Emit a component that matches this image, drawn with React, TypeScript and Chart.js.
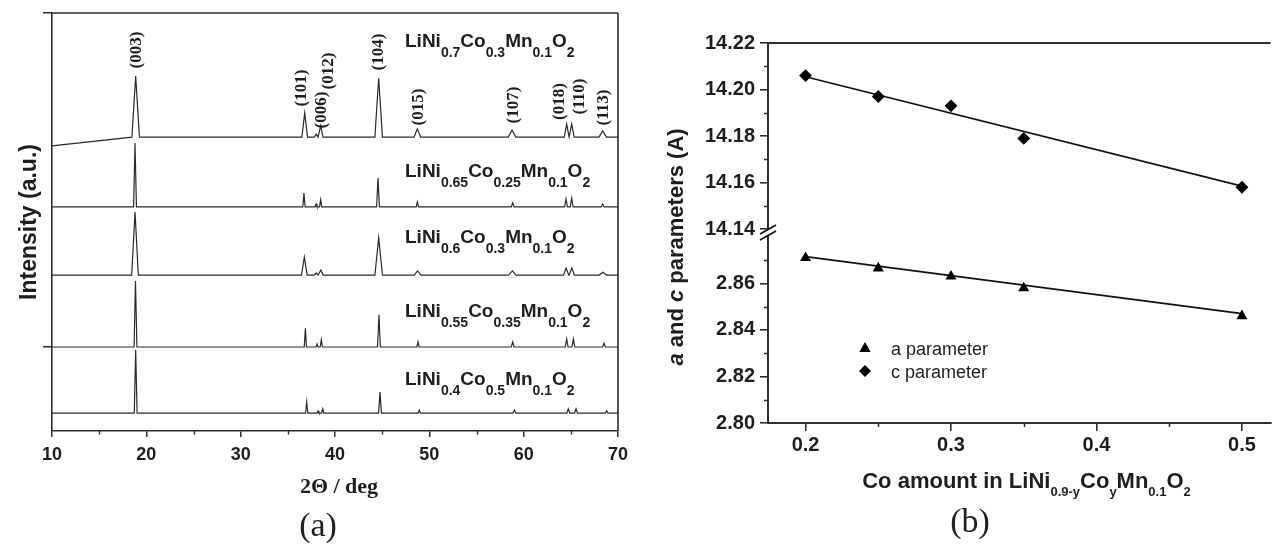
import React, { useEffect, useRef } from 'react';
import { Chart, registerables } from 'chart.js';

Chart.register(...registerables);

const SANS = '"Liberation Sans", Arial, sans-serif';
const SERIF = '"Liberation Serif", "Times New Roman", serif';
const INK = '#1e1e1e';
const AXIS = '#2e2e2e';

// ---------------- Panel (a): XRD patterns ----------------
const X_TICKS_A = [10, 20, 30, 40, 50, 60, 70];
const X_MINOR_A = [15, 25, 35, 45, 55, 65];
const Y_TICKS_A = [20.1, 100];

const SAMPLE_NI = ['0.7', '0.65', '0.6', '0.55', '0.4'];
const SAMPLE_CO = ['0.3', '0.25', '0.3', '0.35', '0.5'];

const BASELINE_START = [68.2, 53.6, 37.3, 20.1, 4.3];
const BASELINE = [70.3, 53.6, 37.3, 20.1, 4.3];

const PEAK_X_1 = [18.87, 36.79, 38.0, 38.48, 44.63, 48.73, 58.77, 64.56, 65.09, 68.38];
const PEAK_Y_1 = [84.9, 76.1, 71.0, 73.0, 84.4, 72.3, 72.0, 73.4, 73.4, 71.8];
const PEAK_W_1 = [0.4, 0.3, 0.2, 0.25, 0.4, 0.35, 0.4, 0.26, 0.26, 0.4];

const PEAK_X_2 = [18.8, 36.71, 37.99, 38.48, 44.56, 48.73, 58.84, 64.49, 65.09, 68.38];
const PEAK_Y_2 = [68.9, 56.9, 54.3, 55.3, 60.5, 54.8, 54.6, 55.5, 55.7, 54.3];
const PEAK_W_2 = [0.15, 0.12, 0.1, 0.12, 0.15, 0.12, 0.15, 0.15, 0.15, 0.15];

const PEAK_X_3 = [18.8, 36.75, 38.0, 38.5, 44.63, 48.75, 58.8, 64.5, 65.1, 68.4];
const PEAK_Y_3 = [52.4, 41.6, 37.8, 38.5, 46.2, 38.3, 38.3, 39.0, 39.0, 38.0];
const PEAK_W_3 = [0.35, 0.3, 0.2, 0.25, 0.4, 0.35, 0.4, 0.28, 0.28, 0.4];

const PEAK_X_4 = [18.85, 36.86, 38.1, 38.55, 44.66, 48.8, 58.84, 64.56, 65.27, 68.52];
const PEAK_Y_4 = [35.9, 24.6, 20.8, 21.8, 27.8, 21.3, 21.3, 22.0, 22.0, 21.0];
const PEAK_W_4 = [0.15, 0.12, 0.1, 0.12, 0.15, 0.12, 0.15, 0.15, 0.15, 0.15];

const PEAK_X_5 = [18.87, 37.0, 38.2, 38.7, 44.77, 48.94, 59.01, 64.73, 65.55, 68.8];
const PEAK_Y_5 = [19.4, 6.9, 4.8, 5.3, 9.3, 5.0, 5.0, 5.3, 5.3, 4.8];
const PEAK_W_5 = [0.15, 0.12, 0.1, 0.12, 0.15, 0.12, 0.15, 0.15, 0.15, 0.15];

const MILLER_TEXT = ['(003)', '(101)', '(006)', '(012)', '(104)', '(015)', '(107)', '(018)', '(110)', '(113)'];
const MILLER_AT_X = [19.01, 36.5, 38.57, 39.31, 44.67, 48.91, 58.9, 63.85, 65.97, 68.52];
const MILLER_AT_Y = [91.15, 82.06, 76.8, 86.1, 90.67, 77.51, 77.99, 78.83, 80.02, 77.39];

const FORMULA_AT_X = 47.42;
const FORMULA_AT_Y = [91.87, 60.77, 44.98, 27.27, 11.0];

// ---------------- Panel (b): lattice parameters ----------------
const CO_AMOUNT = [0.2, 0.25, 0.3, 0.35, 0.5];
const A_PARAM = [2.871, 2.8665, 2.863, 2.858, 2.846];
const C_PARAM = [14.206, 14.197, 14.193, 14.179, 14.158];
const FIT_X = [0.2, 0.5];
const A_FIT = [2.8715, 2.847];
const C_FIT = [14.2055, 14.1585];

const X_TICKS_B = [0.2, 0.3, 0.4, 0.5];
const X_MINOR_B = [0.25, 0.35, 0.45];
const Y_TICKS_LOW = [2.8, 2.82, 2.84, 2.86];
const Y_TICKS_HIGH = [14.14, 14.16, 14.18, 14.2, 14.22];
const Y_MINOR_LOW = [2.81, 2.83, 2.85, 2.87];
const Y_MINOR_HIGH = [14.15, 14.17, 14.19, 14.21];
const LOW_TOP = 2.88;
const HIGH_BASE = 14.14;
const HIGH_BASE_AT = 2.8833; // where 14.14 sits on the broken axis

const toAxis = (v: number) => (v >= 10 ? v - HIGH_BASE + HIGH_BASE_AT : v);

type Seg = { t: string; sub?: boolean; it?: boolean };
type RichOpt = { family: string; size: number; subSize: number; subDy: number; weight: string };

function segFont(s: Seg, o: RichOpt) {
  return `${s.it ? 'italic ' : ''}${o.weight} ${s.sub ? o.subSize : o.size}px ${o.family}`;
}
function richWidth(ctx: CanvasRenderingContext2D, segs: Seg[], o: RichOpt) {
  let w = 0;
  for (const s of segs) {
    ctx.font = segFont(s, o);
    w += ctx.measureText(s.t).width;
  }
  return w;
}
function drawRich(ctx: CanvasRenderingContext2D, segs: Seg[], x: number, y: number, o: RichOpt, align: 'left' | 'center') {
  const total = richWidth(ctx, segs, o);
  let cx = align === 'center' ? x - total / 2 : x;
  ctx.textAlign = 'left';
  ctx.textBaseline = 'alphabetic';
  for (const s of segs) {
    ctx.font = segFont(s, o);
    ctx.fillText(s.t, cx, y + (s.sub ? o.subDy : 0));
    cx += ctx.measureText(s.t).width;
  }
}

function tracePoints(start: number, base: number, xs: number[], ys: number[], ws: number[]) {
  const pts: { x: number; y: number }[] = [{ x: 10, y: start }];
  for (let i = 0; i < xs.length; i++) {
    pts.push({ x: xs[i] - ws[i], y: base });
    pts.push({ x: xs[i], y: ys[i] });
    pts.push({ x: xs[i] + ws[i], y: base });
  }
  pts.push({ x: 70, y: base });
  return pts;
}

const panelAPlugin = {
  id: 'panelA',
  afterDraw(chart: any) {
    const ctx: CanvasRenderingContext2D = chart.ctx;
    const { left, right, top, bottom } = chart.chartArea;
    const xs = chart.scales.x;
    const ys = chart.scales.y;
    ctx.save();
    ctx.strokeStyle = AXIS;
    ctx.lineWidth = 1.6;
    ctx.beginPath();
    ctx.moveTo(left, top);
    ctx.lineTo(right, top);
    ctx.moveTo(right, top);
    ctx.lineTo(right, bottom);
    ctx.stroke();
    ctx.lineWidth = 1.4;
    ctx.beginPath();
    for (const v of X_MINOR_A) {
      const px = Math.round(xs.getPixelForValue(v)) + 0.5;
      ctx.moveTo(px, bottom);
      ctx.lineTo(px, bottom + 3.5);
    }
    ctx.stroke();

    ctx.fillStyle = INK;
    ctx.font = `bold 17px ${SERIF}`;
    ctx.textAlign = 'center';
    ctx.textBaseline = 'middle';
    MILLER_TEXT.forEach((t, i) => {
      ctx.save();
      ctx.translate(xs.getPixelForValue(MILLER_AT_X[i]), ys.getPixelForValue(MILLER_AT_Y[i]));
      ctx.rotate(-Math.PI / 2);
      ctx.fillText(t, 0, 0);
      ctx.restore();
    });

    const fo: RichOpt = { family: SANS, size: 19, subSize: 14, subDy: 10, weight: 'bold' };
    SAMPLE_NI.forEach((ni, i) => {
      const segs: Seg[] = [
        { t: 'LiNi' }, { t: ni, sub: true }, { t: 'Co' }, { t: SAMPLE_CO[i], sub: true },
        { t: 'Mn' }, { t: '0.1', sub: true }, { t: 'O' }, { t: '2', sub: true },
      ];
      drawRich(ctx, segs, xs.getPixelForValue(FORMULA_AT_X), ys.getPixelForValue(FORMULA_AT_Y[i]), fo, 'left');
    });

    ctx.save();
    ctx.translate(36, 222);
    ctx.rotate(-Math.PI / 2);
    ctx.font = `bold 23px ${SANS}`;
    ctx.textAlign = 'center';
    ctx.textBaseline = 'alphabetic';
    ctx.fillText('Intensity (a.u.)', 0, 0);
    ctx.restore();

    ctx.font = `bold 22px ${SERIF}`;
    ctx.textAlign = 'center';
    ctx.textBaseline = 'alphabetic';
    ctx.fillText('2\u0398 / deg', 339, 493);

    ctx.font = `34px ${SERIF}`;
    ctx.fillStyle = '#222';
    ctx.fillText('(a)', 318, 536);
    ctx.restore();
  },
};

const panelBPlugin = {
  id: 'panelB',
  afterDraw(chart: any) {
    const ctx: CanvasRenderingContext2D = chart.ctx;
    const { left, right, top, bottom } = chart.chartArea;
    const xs = chart.scales.x;
    const ys = chart.scales.y;
    ctx.save();
    ctx.strokeStyle = AXIS;
    ctx.lineWidth = 2;
    ctx.beginPath();
    ctx.moveTo(left, top);
    ctx.lineTo(right, top);
    ctx.stroke();

    ctx.lineWidth = 1.5;
    ctx.beginPath();
    for (const v of X_MINOR_B) {
      const px = Math.round(xs.getPixelForValue(v)) + 0.5;
      ctx.moveTo(px, bottom);
      ctx.lineTo(px, bottom + 4);
    }
    for (const v of [...Y_MINOR_LOW, ...Y_MINOR_HIGH]) {
      const py = Math.round(ys.getPixelForValue(toAxis(v))) + 0.5;
      ctx.moveTo(left, py);
      ctx.lineTo(left - 4, py);
    }
    ctx.stroke();

    // axis break
    const yb = (ys.getPixelForValue(LOW_TOP) + ys.getPixelForValue(toAxis(HIGH_BASE))) / 2;
    ctx.fillStyle = '#fff';
    ctx.beginPath();
    ctx.moveTo(left - 8, yb + 1);
    ctx.lineTo(left + 8, yb - 8);
    ctx.lineTo(left + 8, yb - 2);
    ctx.lineTo(left - 8, yb + 7);
    ctx.closePath();
    ctx.fill();
    ctx.strokeStyle = '#111';
    ctx.lineWidth = 1.6;
    ctx.beginPath();
    ctx.moveTo(left - 8, yb + 1);
    ctx.lineTo(left + 8, yb - 8);
    ctx.moveTo(left - 8, yb + 7);
    ctx.lineTo(left + 8, yb - 2);
    ctx.stroke();

    // legend
    const lx = left + 97;
    const ly1 = top + 305;
    const ly2 = top + 328;
    ctx.fillStyle = '#000';
    ctx.beginPath();
    ctx.moveTo(lx, ly1 - 6);
    ctx.lineTo(lx + 5.6, ly1 + 4);
    ctx.lineTo(lx - 5.6, ly1 + 4);
    ctx.closePath();
    ctx.fill();
    ctx.beginPath();
    ctx.moveTo(lx, ly2 - 6);
    ctx.lineTo(lx + 6, ly2);
    ctx.lineTo(lx, ly2 + 6);
    ctx.lineTo(lx - 6, ly2);
    ctx.closePath();
    ctx.fill();
    ctx.fillStyle = INK;
    ctx.font = `18px ${SANS}`;
    ctx.textAlign = 'left';
    ctx.textBaseline = 'alphabetic';
    ctx.fillText('a parameter', lx + 26, ly1 + 7);
    ctx.fillText('c parameter', lx + 26, ly2 + 7);

    // axis titles
    const to: RichOpt = { family: SANS, size: 22, subSize: 13, subDy: 8, weight: 'bold' };
    drawRich(ctx, [
      { t: 'Co amount in LiNi' }, { t: '0.9-y', sub: true }, { t: 'Co' }, { t: 'y', sub: true },
      { t: 'Mn' }, { t: '0.1', sub: true }, { t: 'O' }, { t: '2', sub: true },
    ], 386.5, 488, to, 'center');

    ctx.save();
    ctx.translate(43, 247);
    ctx.rotate(-Math.PI / 2);
    drawRich(ctx, [
      { t: 'a', it: true }, { t: ' and ' }, { t: 'c', it: true }, { t: ' parameters (A)' },
    ], 0, 0, { family: SANS, size: 22, subSize: 14, subDy: 8, weight: 'bold' }, 'center');
    ctx.restore();

    ctx.font = `34px ${SERIF}`;
    ctx.fillStyle = '#222';
    ctx.textAlign = 'center';
    ctx.fillText('(b)', 330, 532);
    ctx.restore();
  },
};

export default function App() {
  const refA = useRef<HTMLCanvasElement>(null);
  const refB = useRef<HTMLCanvasElement>(null);

  useEffect(() => {
    document.body.style.margin = '0';
    const traces = [
      tracePoints(BASELINE_START[0], BASELINE[0], PEAK_X_1, PEAK_Y_1, PEAK_W_1),
      tracePoints(BASELINE_START[1], BASELINE[1], PEAK_X_2, PEAK_Y_2, PEAK_W_2),
      tracePoints(BASELINE_START[2], BASELINE[2], PEAK_X_3, PEAK_Y_3, PEAK_W_3),
      tracePoints(BASELINE_START[3], BASELINE[3], PEAK_X_4, PEAK_Y_4, PEAK_W_4),
      tracePoints(BASELINE_START[4], BASELINE[4], PEAK_X_5, PEAK_Y_5, PEAK_W_5),
    ];
    const chartA = new Chart(refA.current as HTMLCanvasElement, {
      type: 'line',
      data: {
        datasets: traces.map((pts, i) => ({
          label: SAMPLE_NI[i],
          data: pts,
          borderColor: '#2a2a2a',
          borderWidth: 1.2,
          pointRadius: 0,
          tension: 0,
          fill: false,
        })),
      },
      options: {
        animation: false,
        responsive: false,
        devicePixelRatio: 1,
        events: [],
        parsing: false as any,
        layout: { padding: { left: 0, top: 13, right: 22, bottom: 56 } },
        plugins: { legend: { display: false }, tooltip: { enabled: false } },
        scales: {
          x: {
            type: 'linear',
            min: 10,
            max: 70,
            afterBuildTicks: (s: any) => { s.ticks = X_TICKS_A.map((v) => ({ value: v })); },
            afterFit: (s: any) => { s.height = 60; },
            ticks: { font: { family: SANS, size: 18, weight: 'bold' }, color: INK, padding: 7, maxRotation: 0, autoSkip: false },
            grid: { drawOnChartArea: false, drawTicks: true, tickLength: 6, color: AXIS, lineWidth: 1.5 },
            border: { display: true, color: AXIS, width: 1.6 },
          },
          y: {
            type: 'linear',
            min: 0,
            max: 100,
            afterBuildTicks: (s: any) => { s.ticks = Y_TICKS_A.map((v) => ({ value: v })); },
            afterFit: (s: any) => { s.width = 52; },
            ticks: { display: false },
            grid: { drawOnChartArea: false, drawTicks: true, tickLength: 9, color: AXIS, lineWidth: 1.5 },
            border: { display: true, color: AXIS, width: 1.6 },
          },
        },
      } as any,
      plugins: [panelAPlugin],
    });

    const Y_TICKS_B = [...Y_TICKS_LOW, ...Y_TICKS_HIGH];
    const chartB = new Chart(refB.current as HTMLCanvasElement, {
      type: 'scatter',
      data: {
        datasets: [
          {
            label: 'a parameter',
            data: CO_AMOUNT.map((x, i) => ({ x, y: toAxis(A_PARAM[i]) })),
            pointStyle: 'triangle',
            pointRadius: 6.4,
            backgroundColor: '#000',
            borderColor: '#000',
            borderWidth: 0,
          },
          {
            label: 'c parameter',
            data: CO_AMOUNT.map((x, i) => ({ x, y: toAxis(C_PARAM[i]) })),
            pointStyle: 'rectRot',
            pointRadius: 6.4,
            backgroundColor: '#000',
            borderColor: '#000',
            borderWidth: 0,
          },
          {
            label: 'a fit',
            data: FIT_X.map((x, i) => ({ x, y: toAxis(A_FIT[i]) })),
            showLine: true,
            pointRadius: 0,
            borderColor: '#111',
            borderWidth: 1.6,
          },
          {
            label: 'c fit',
            data: FIT_X.map((x, i) => ({ x, y: toAxis(C_FIT[i]) })),
            showLine: true,
            pointRadius: 0,
            borderColor: '#111',
            borderWidth: 1.6,
          },
        ],
      },
      options: {
        animation: false,
        responsive: false,
        devicePixelRatio: 1,
        events: [],
        layout: { padding: { left: 0, top: 43, right: 0, bottom: 64 } },
        plugins: { legend: { display: false }, tooltip: { enabled: false } },
        scales: {
          x: {
            type: 'linear',
            min: 0.1742,
            max: 0.5197,
            afterBuildTicks: (s: any) => { s.ticks = X_TICKS_B.map((v) => ({ value: v })); },
            afterFit: (s: any) => { s.height = 60; },
            ticks: {
              font: { family: SANS, size: 20, weight: 'bold' }, color: INK, padding: 2, maxRotation: 0, autoSkip: false,
              callback: (v: any) => Number(v).toFixed(1),
            },
            grid: { drawOnChartArea: false, drawTicks: true, tickLength: 8, color: AXIS, lineWidth: 1.6 },
            border: { display: true, color: AXIS, width: 2 },
          },
          y: {
            type: 'linear',
            min: 2.8,
            max: toAxis(14.22),
            afterBuildTicks: (s: any) => { s.ticks = Y_TICKS_B.map((v) => ({ value: toAxis(v) })); },
            afterFit: (s: any) => { s.width = 128; },
            ticks: {
              font: { family: SANS, size: 20, weight: 'bold' }, color: INK, padding: 5, autoSkip: false,
              callback: (_v: any, i: number) => Y_TICKS_B[i].toFixed(2),
            },
            grid: { drawOnChartArea: false, drawTicks: true, tickLength: 8, color: AXIS, lineWidth: 1.6 },
            border: { display: true, color: AXIS, width: 2 },
          },
        },
      } as any,
      plugins: [panelBPlugin],
    });

    return () => {
      chartA.destroy();
      chartB.destroy();
    };
  }, []);

  return (
    <div style={{ position: 'absolute', left: 0, top: 0, width: 1277, height: 547, background: '#fff', overflow: 'hidden' }}>
      <canvas ref={refA} width={640} height={547} style={{ position: 'absolute', left: 0, top: 0, width: 640, height: 547 }} />
      <canvas ref={refB} width={637} height={547} style={{ position: 'absolute', left: 640, top: 0, width: 637, height: 547 }} />
    </div>
  );
}
